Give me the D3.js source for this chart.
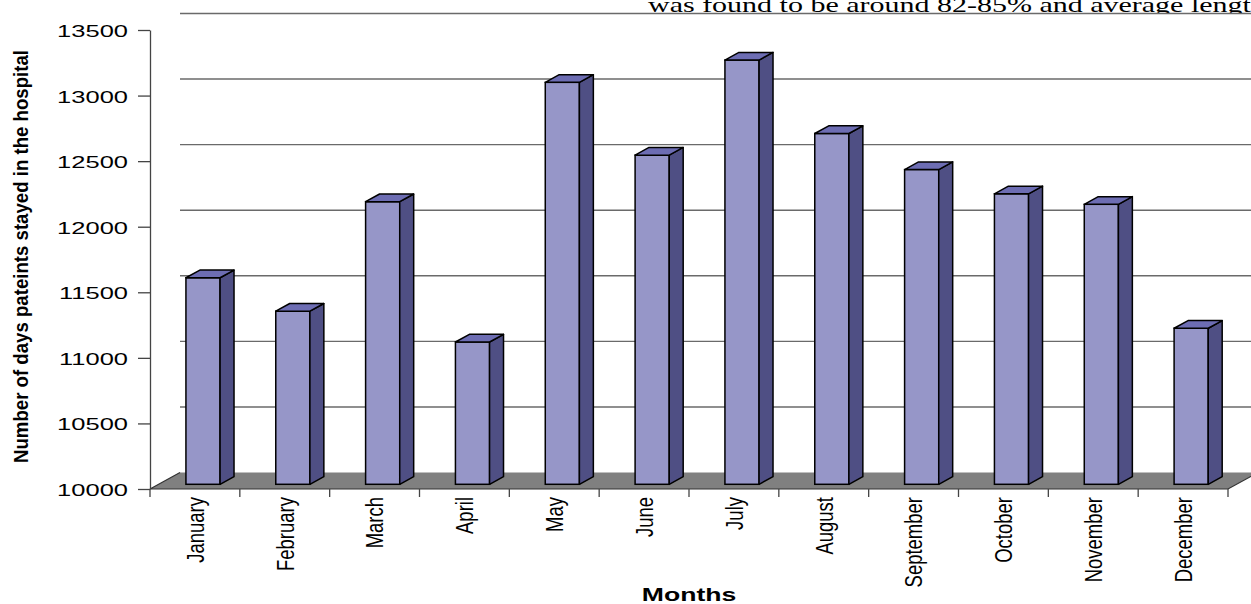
<!DOCTYPE html>
<html>
<head>
<meta charset="utf-8">
<script src="https://cdn.jsdelivr.net/npm/d3@7/dist/d3.min.js"></script>
<style>
html,body{margin:0;padding:0;background:#fff;}
svg{display:block;}
text{font-family:Arial,"Liberation Sans",sans-serif;fill:#000;}
</style>
</head>
<body>
<svg id="chart" width="1251" height="604"></svg>
<script>
const months = ["January","February","March","April","May","June","July","August","September","October","November","December"];
const daysStayed = [11575, 11320, 12155, 11085, 13065, 12510, 13235, 12675, 12400, 12215, 12135, 11190];
const yTicks = [10000, 10500, 11000, 11500, 12000, 12500, 13000, 13500];
const yTitle = "Number of days pateints stayed in the hospital";
const xTitle = "Months";
const headerText = "was found to be around 82-85% and average lengt";

const W = 1251, H = 604;
const svg = d3.select("#chart");

// projection parameters (3D look)
const DEPTH_X = 30, DEPTH_Y = 16.5;   // floor depth
const BAR_D0 = 0.285, BAR_D1 = 0.75;  // bar front / back depth fraction

const x = d3.scaleBand().domain(months).range([150, 1228]).padding(0);
const y = d3.scaleLinear().domain([10000, 13500]).range([489, 30]);
const bw = x.bandwidth();

// header text (clipped document text above chart)
svg.append("clipPath").attr("id","hdrclip").append("rect")
  .attr("x",0).attr("y",0).attr("width",W).attr("height",13);
svg.append("g").attr("clip-path","url(#hdrclip)")
  .append("text")
  .attr("transform","translate(648,12) scale(1.5,1)")
  .style("font-family",'"Liberation Serif","Times New Roman",serif')
  .style("font-size","20px")
  .text(headerText);

// back wall gridlines
svg.append("g").selectAll("line").data(yTicks.slice(1)).join("line")
  .attr("x1", 150 + DEPTH_X).attr("x2", W + 5)
  .attr("y1", d => y(d) - DEPTH_Y).attr("y2", d => y(d) - DEPTH_Y)
  .attr("stroke", "#6a6a6a").attr("stroke-width", 1.4);

// floor
const fy = y(10000);
svg.append("path")
  .attr("d", `M150,${fy} L1228,${fy} L${1228+DEPTH_X},${fy-DEPTH_Y} L${150+DEPTH_X},${fy-DEPTH_Y} Z`)
  .attr("fill", "#808080");
svg.append("path")
  .attr("d", `M${150+DEPTH_X},${fy-DEPTH_Y} L150,${fy} L1228,${fy} L${1228+DEPTH_X},${fy-DEPTH_Y}`)
  .attr("fill", "none").attr("stroke", "#333").attr("stroke-width", 1.2);

// bars
const front = d => x(d.m) + bw * 0.40;
const bWidth = bw * 0.38;
const dx = (BAR_D1 - BAR_D0) * DEPTH_X, dyy = (BAR_D1 - BAR_D0) * DEPTH_Y;
const bottom = fy - BAR_D0 * DEPTH_Y;
const topY = d => y(d.v) - BAR_D0 * DEPTH_Y;
const data = months.map((m, i) => ({m, v: daysStayed[i]}));

const bars = svg.append("g").selectAll("g").data(data).join("g");
bars.append("rect")
  .attr("x", front).attr("y", topY)
  .attr("width", bWidth).attr("height", d => bottom - topY(d))
  .attr("fill", "#9696c8").attr("stroke", "#000").attr("stroke-width", 1.5);
bars.append("path")
  .attr("d", d => {
    const xr = front(d) + bWidth, t = topY(d);
    return `M${xr},${t} L${xr+dx},${t-dyy} L${xr+dx},${bottom-dyy} L${xr},${bottom} Z`;
  })
  .attr("fill", "#4f4f84").attr("stroke", "#000").attr("stroke-width", 1.5).attr("stroke-linejoin","round");
bars.append("path")
  .attr("d", d => {
    const xl = front(d), t = topY(d);
    return `M${xl},${t} L${xl+bWidth},${t} L${xl+bWidth+dx},${t-dyy} L${xl+dx},${t-dyy} Z`;
  })
  .attr("fill", "#6d6db3").attr("stroke", "#000").attr("stroke-width", 1.5).attr("stroke-linejoin","round");

// y axis
const yAxis = svg.append("g").attr("transform", "translate(150,0)")
  .call(d3.axisLeft(y).tickValues(yTicks).tickSize(12).tickSizeOuter(0).tickFormat(d3.format("d")));
yAxis.select(".domain").attr("stroke", "#444").attr("stroke-width", 1.3);
yAxis.selectAll(".tick line").attr("stroke", "#444").attr("stroke-width", 1.3);
yAxis.selectAll(".tick text")
  .attr("x", null).attr("dy", "0.38em")
  .attr("transform", "translate(-22,0) scale(1.5,1)")
  .attr("text-anchor", "end")
  .style("font-size", "17px").style("font-family", "Arial, 'Liberation Sans', sans-serif").attr("fill", "#000");

// x axis ticks at band boundaries
const bounds = months.map(m => x(m)).concat([1228]);
svg.append("g").selectAll("line").data(bounds).join("line")
  .attr("x1", d => d).attr("x2", d => d)
  .attr("y1", fy).attr("y2", fy + 8)
  .attr("stroke", "#444").attr("stroke-width", 1.3);

// x labels
svg.append("g").selectAll("text").data(months).join("text")
  .attr("transform", d => `translate(${x(d) + bw/2},497) scale(1.33,1) rotate(-90)`)
  .attr("text-anchor", "end").attr("dy", "0.36em")
  .style("font-size", "18.5px")
  .text(d => d);

// axis titles
svg.append("text")
  .attr("transform", "translate(20.5,256.5) scale(1.3,1) rotate(-90)")
  .attr("text-anchor", "middle").attr("dy", "0.36em")
  .attr("textLength", 413).attr("lengthAdjust", "spacingAndGlyphs")
  .style("font-size", "16px").style("font-weight", "bold")
  .text(yTitle);

svg.append("text")
  .attr("transform", "translate(689,601) scale(1.5,1)")
  .attr("text-anchor", "middle")
  .attr("textLength", 63).attr("lengthAdjust", "spacingAndGlyphs")
  .style("font-size", "19px").style("font-weight", "bold")
  .text(xTitle);
</script>
</body>
</html>
